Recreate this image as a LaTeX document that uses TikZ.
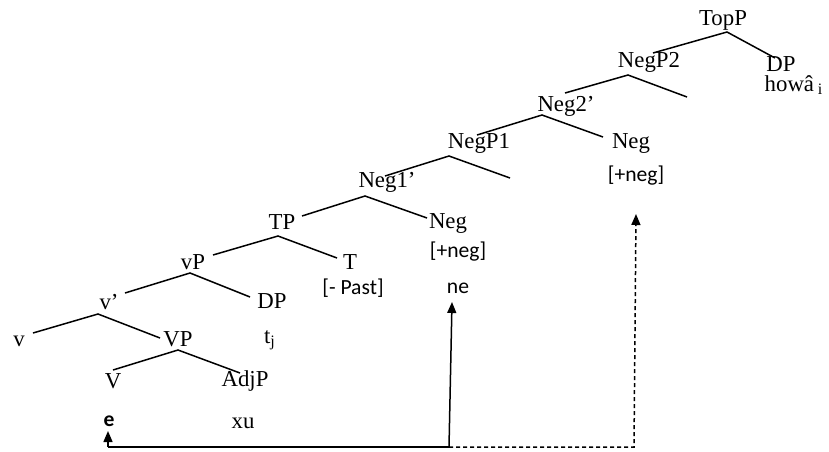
\documentclass[tikz,border=0pt]{standalone}
\usepackage{fontspec}
\setmainfont{Liberation Serif}
\newfontfamily\calfont{Carlito}
\usetikzlibrary{arrows.meta}
\begin{document}
\begin{tikzpicture}[x=0.5pt,y=-0.5pt,
  lbl/.style={inner sep=0pt,anchor=center,font=\fontsize{11.4}{13}\selectfont},
  feat/.style={inner sep=0pt,anchor=center,font=\calfont\fontsize{10.8}{13}\selectfont},
  branch/.style={line width=0.75pt},
  mov/.style={line width=0.75pt},
  tip/.style={-{Triangle[length=5.5pt,width=4.5pt]}}]
\useasboundingbox (0,0) rectangle (829,451);
% labels
\node[lbl] (topp) at (723,20) {TopP};
\node[lbl] (negp2) at (649,62) {NegP2};
\node[lbl] (dptop) at (781,64) {DP};
\node[lbl] (howa) at (794,85) {howâ\,\textsubscript{i}};
\node[lbl] (neg2b) at (566,106) {Neg2’};
\node[lbl] (negp1) at (479,143) {NegP1};
\node[lbl] (negup) at (631,143) {Neg};
\node[feat] (fneghi) at (636,176) {[+neg]};
\node[lbl] (neg1b) at (387,182) {Neg1’};
\node[lbl] (tp) at (282,222) {TP};
\node[lbl] (neglo) at (448,223) {Neg};
\node[feat] (fneglo) at (458,252) {[+neg]};
\node[lbl] (vsp) at (193,262) {vP};
\node[lbl] (t) at (350,262) {T};
\node[feat] (past) at (353,288) {[- Past]};
\node[feat] (ne) at (458,288) {ne};
\node[lbl] (vbar) at (109,302) {v’};
\node[lbl] (dp) at (272,301) {DP};
\node[lbl] (vs) at (19,341) {v};
\node[lbl] (vp) at (178,339) {VP};
\node[lbl] (tj) at (270,340) {t\textsubscript{j}};
\node[lbl] (V) at (113,381) {V};
\node[lbl] (adjp) at (245,381) {AdjP};
\node[feat,font=\calfont\bfseries\fontsize{10.8}{13}\selectfont] (e) at (109,421) {e};
\node[lbl] (xu) at (243,423) {xu};
% branch points
\coordinate (topA) at (727,32); \coordinate (topL) at (653,53); \coordinate (topR) at (775,58);
\coordinate (np2A) at (628,75); \coordinate (np2L) at (565,93); \coordinate (np2R) at (687,97);
\coordinate (n2bA) at (542,115); \coordinate (n2bL) at (477,135); \coordinate (n2bR) at (603,137);
\coordinate (np1A) at (449,156); \coordinate (np1L) at (385,176); \coordinate (np1R) at (510,178);
\coordinate (n1bA) at (365,196); \coordinate (n1bL) at (302,216); \coordinate (n1bR) at (427,218);
\coordinate (tpA) at (278,236); \coordinate (tpL) at (213,255); \coordinate (tpR) at (337,258);
\coordinate (vspA) at (190,273); \coordinate (vspL) at (125,293); \coordinate (vspR) at (250,297);
\coordinate (vbA) at (98,314); \coordinate (vbL) at (33,333); \coordinate (vbR) at (160,338);
\coordinate (vpA) at (178,350); \coordinate (vpL) at (113,370); \coordinate (vpR) at (240,373);
\foreach \n in {top,np2,n2b,np1,n1b,tp,vsp,vb,vp}{
  \draw[branch] (\n L) -- (\n A) -- (\n R);
}
% movement arrows
\coordinate (eBase) at (108,447);
\coordinate (eTip) at (108,431);
\coordinate (neBase) at (449,447);
\coordinate (neTip) at (452,302);
\coordinate (dCorner) at (634,447);
\coordinate (dTip) at (636,214);
\draw[mov,tip] (eBase) -- (eTip);
\draw[mov] (eBase) -- (neBase);
\draw[mov,tip] (neBase) -- (neTip);
\draw[mov,dash pattern=on 2pt off 1.5pt,tip] (neBase) -- (dCorner) -- (dTip);
\end{tikzpicture}
\end{document}
